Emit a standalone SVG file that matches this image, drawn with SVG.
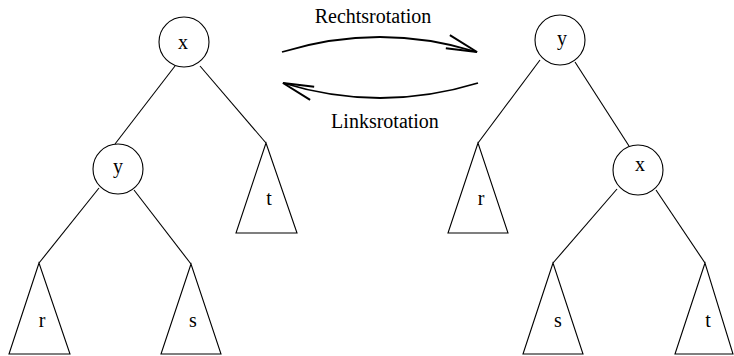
<svg xmlns="http://www.w3.org/2000/svg" width="734" height="356" viewBox="0 0 734 356">
<style>
.n{fill:#fff;stroke:#000;stroke-width:1.1}
.e{fill:none;stroke:#000;stroke-width:1.1}
text{font-family:'Liberation Serif','DejaVu Serif',serif;font-size:20px;fill:#000;text-anchor:middle}
.arc{fill:none;stroke:#000;stroke-width:1.8}
</style>
<defs>
<marker id="ah" markerUnits="userSpaceOnUse" markerWidth="40" markerHeight="40" refX="0" refY="0" viewBox="-30 -15 35 30" orient="auto" overflow="visible">
<path d="M-27,-7 L0,0 L-27,5" fill="none" stroke="#000" stroke-width="1.8"/>
</marker>
</defs>
<rect width="734" height="356" fill="#fff"/>
<g id="connectors">
<line class="e" x1="175" y1="66" x2="115" y2="144"/>
<line class="e" x1="200" y1="66" x2="266" y2="143"/>
<line class="e" x1="99" y1="188" x2="39" y2="263"/>
<line class="e" x1="134" y1="190" x2="191" y2="264"/>
<line class="e" x1="540" y1="60" x2="478" y2="143"/>
<line class="e" x1="575" y1="62" x2="629" y2="146"/>
<line class="e" x1="617" y1="189" x2="553" y2="263"/>
<line class="e" x1="656" y1="190" x2="705" y2="263"/>
<path id="rechts" class="arc" d="M282,52 Q380,22 477,52" marker-end="url(#ah)"/>
<path id="links" class="arc" d="M478,83 Q380,113 283,83" marker-end="url(#ah)"/>
</g>
<g font-family="Liberation Serif, serif">
<text x="373" y="23" font-family="Liberation Serif, serif">Rechtsrotation</text>
<text x="385" y="128" font-family="Liberation Serif, serif">Linksrotation</text>
</g>
<g id="left-x"><circle class="n" cx="184" cy="42" r="25"/><text x="183" y="49">x</text></g>
<g id="left-y"><circle class="n" cx="118" cy="169" r="25"/><text x="118" y="173">y</text></g>
<g id="left-t"><polygon class="n" points="266,143 236,233 297,233"/><text x="269" y="205">t</text></g>
<g id="left-r"><polygon class="n" points="39,263 9,354 70,354"/><text x="42" y="327">r</text></g>
<g id="left-s"><polygon class="n" points="191,264 161,354 221,354"/><text x="193" y="327">s</text></g>
<g id="right-y"><circle class="n" cx="560" cy="40" r="25"/><text x="562" y="45">y</text></g>
<g id="right-x"><circle class="n" cx="638" cy="170" r="25"/><text x="640" y="171">x</text></g>
<g id="right-r"><polygon class="n" points="478,143 448,233 508,233"/><text x="481" y="205">r</text></g>
<g id="right-s"><polygon class="n" points="553,263 523,354 583,354"/><text x="558" y="327">s</text></g>
<g id="right-t"><polygon class="n" points="705,263 675,354 733,354"/><text x="708" y="327">t</text></g>
</svg>
